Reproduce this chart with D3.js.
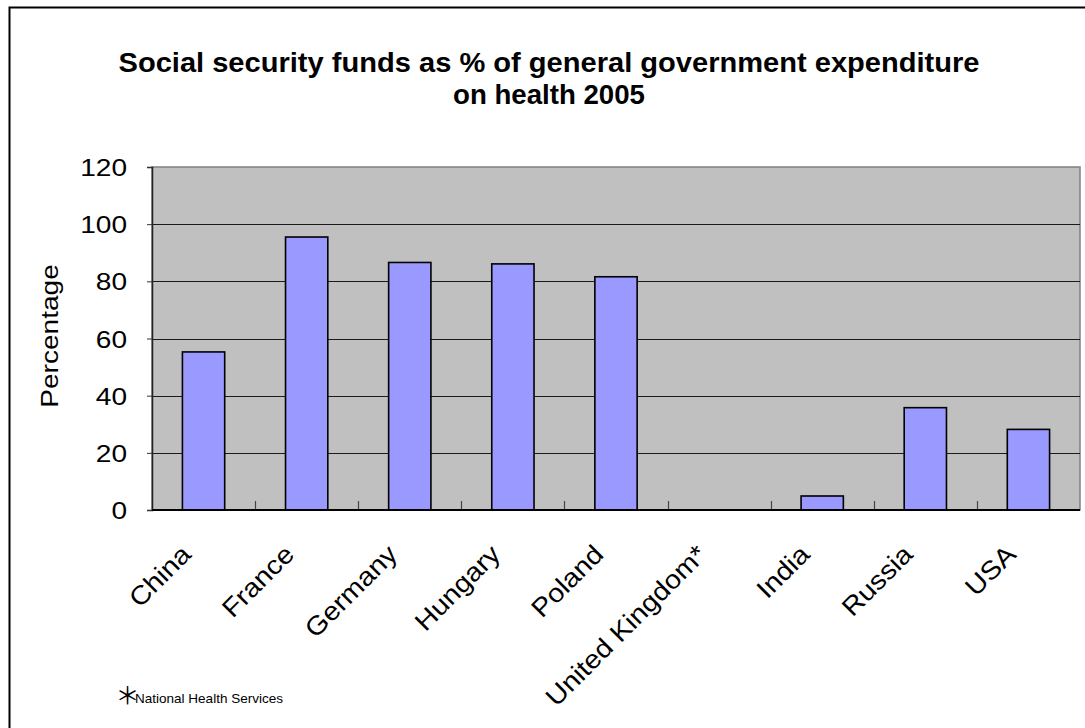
<!DOCTYPE html>
<html>
<head>
<meta charset="utf-8">
<script src="https://cdn.jsdelivr.net/npm/d3@7"></script>
<style>
  html, body { margin: 0; padding: 0; background: #fff; }
  svg { display: block; }
  text { font-family: "Liberation Sans", Arial, sans-serif; fill: #000; }
</style>
</head>
<body>
<svg id="chart" width="1085" height="728"></svg>
<script>
// Social security funds as % of general government expenditure on health, 2005
const categories = ["China", "France", "Germany", "Hungary", "Poland", "United Kingdom*", "India", "Russia", "USA"];
const values = [55.3, 95.5, 86.6, 86.1, 81.6, null, 4.9, 35.8, 28.2];
const yTicks = [0, 20, 40, 60, 80, 100, 120];
const titleLines = ["Social security funds as % of general government expenditure", "on health 2005"];
const yLabel = "Percentage";
const footnoteMark = "＊";
const footnoteText = "National Health Services";

const W = 1085, H = 728;
const plot = { left: 152, right: 1080, top: 167, bottom: 510 };
const svg = d3.select("#chart");

// widen glyphs along the text direction
function stretch(sel, k) {
  sel.each(function () {
    const w = this.getComputedTextLength();
    d3.select(this).attr("textLength", w * k).attr("lengthAdjust", "spacingAndGlyphs");
  });
}

// outer frame (open on the right and bottom edges of the page)
svg.append("rect")
  .attr("x", 9.5).attr("y", 7.5)
  .attr("width", W + 20).attr("height", H + 20)
  .attr("fill", "#fff").attr("stroke", "#000").attr("stroke-width", 2);

const x = d3.scaleBand().domain(categories).range([plot.left, plot.right]).paddingInner(0).paddingOuter(0);
const y = d3.scaleLinear().domain([0, 120]).range([plot.bottom, plot.top]);

// plot background
svg.append("rect")
  .attr("x", plot.left).attr("y", plot.top)
  .attr("width", plot.right - plot.left).attr("height", plot.bottom - plot.top)
  .attr("fill", "#c0c0c0").attr("stroke", "#808080").attr("stroke-width", 1.5);

// horizontal gridlines
svg.append("g").selectAll("line")
  .data(yTicks.filter(t => t > 0 && t < 120))
  .join("line")
  .attr("x1", plot.left).attr("x2", plot.right)
  .attr("y1", d => Math.round(y(d)) + 0.5).attr("y2", d => Math.round(y(d)) + 0.5)
  .attr("stroke", "#1a1a1a").attr("stroke-width", 1);

// bars
const barW = x.bandwidth() * 0.41;
svg.append("g").selectAll("rect")
  .data(categories.map((c, i) => ({ c, v: values[i] })).filter(d => d.v != null))
  .join("rect")
  .attr("x", d => x(d.c) + (x.bandwidth() - barW) / 2)
  .attr("y", d => y(d.v))
  .attr("width", barW)
  .attr("height", d => y(0) - y(d.v))
  .attr("fill", "#9999ff").attr("stroke", "#000").attr("stroke-width", 1.6);

// y axis
const yAxis = svg.append("g")
  .attr("transform", `translate(${plot.left},0)`)
  .call(d3.axisLeft(y).tickValues(yTicks).tickSize(5).tickPadding(20).tickFormat(d3.format("d")));
yAxis.select(".domain").attr("stroke", "#222").attr("stroke-width", 1.5);
yAxis.selectAll(".tick line").attr("stroke", "#333");
yAxis.selectAll(".tick text")
  .attr("font-size", 24).attr("dy", "0.36em").attr("fill", "#000")
  .style("font-family", '"Liberation Sans", Arial, sans-serif');
stretch(yAxis.selectAll(".tick text"), 1.17);

// x axis: boundary ticks pointing into the plot
const boundaries = categories.slice(1).map(c => x(c));
svg.append("g").selectAll("line")
  .data(boundaries)
  .join("line")
  .attr("x1", d => Math.round(d) + 0.5).attr("x2", d => Math.round(d) + 0.5)
  .attr("y1", plot.bottom).attr("y2", plot.bottom - 9)
  .attr("stroke", "#444").attr("stroke-width", 1.2);
svg.append("line")
  .attr("x1", plot.left).attr("x2", plot.right)
  .attr("y1", plot.bottom).attr("y2", plot.bottom)
  .attr("stroke", "#000").attr("stroke-width", 2);

// category labels, rotated
const xLabels = svg.append("g").selectAll("text")
  .data(categories)
  .join("text")
  .attr("transform", d => `translate(${x(d) + x.bandwidth() / 2 - 11},${plot.bottom + 46}) rotate(-45)`)
  .attr("text-anchor", "end")
  .attr("font-size", 26)
  .text(d => d);
stretch(xLabels, 1.1);

// y axis title
const yt = svg.append("text")
  .attr("transform", "translate(58,336) rotate(-90)")
  .attr("text-anchor", "middle")
  .attr("font-size", 24)
  .text(yLabel);
stretch(yt, 1.17);

// chart title
const cx = 549;
svg.append("text")
  .attr("x", cx).attr("y", 72)
  .attr("text-anchor", "middle").attr("font-size", 27).attr("font-weight", "bold")
  .attr("textLength", 861).attr("lengthAdjust", "spacingAndGlyphs")
  .text(titleLines[0]);
svg.append("text")
  .attr("x", cx).attr("y", 104)
  .attr("text-anchor", "middle").attr("font-size", 27).attr("font-weight", "bold")
  .attr("textLength", 192).attr("lengthAdjust", "spacingAndGlyphs")
  .text(titleLines[1]);

// footnote
svg.append("text")
  .attr("x", 127.5).attr("y", 704)
  .attr("text-anchor", "middle")
  .attr("font-size", 24)
  .style("font-family", '"Noto Sans CJK SC", "DejaVu Sans", sans-serif')
  .text(footnoteMark);
svg.append("text")
  .attr("x", 135).attr("y", 703)
  .attr("font-size", 13)
  .attr("textLength", 148).attr("lengthAdjust", "spacingAndGlyphs")
  .text(footnoteText);
</script>
</body>
</html>
